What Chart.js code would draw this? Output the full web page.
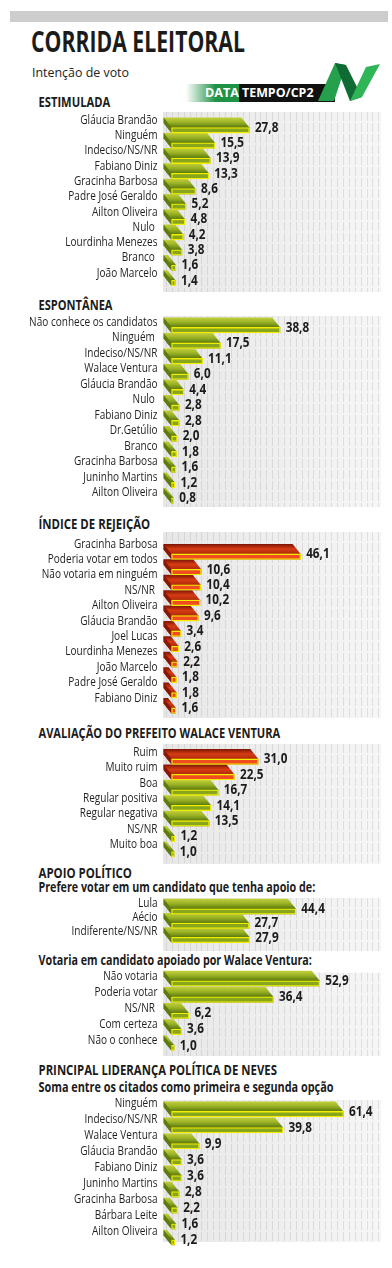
<!DOCTYPE html>
<html>
<head>
<meta charset="utf-8">
<script src="https://cdn.jsdelivr.net/npm/chart.js@4"></script>
<style>
  html, body { margin: 0; padding: 0; background: #fff; }
  #page { position: relative; width: 392px; height: 1268px; overflow: hidden; background: #fff; }
  #page svg, #page canvas { position: absolute; left: 0; }
</style>
</head>
<body>
<div id="page">
  <svg width="392" height="1268" style="top:0" font-family="'Open Sans', 'DejaVu Sans', sans-serif" fill="#1b1b1b">
    <defs>
      <linearGradient id="logoFade" x1="0" x2="1" y1="0" y2="0">
        <stop offset="0" stop-color="#ffffff"/>
        <stop offset="0.55" stop-color="#1f9246"/>
        <stop offset="1" stop-color="#1f9246"/>
      </linearGradient>
    </defs>
    <rect x="10" y="11" width="378" height="11" fill="#cdcdcd"/>
    <text x="31" y="52" font-size="28" font-weight="700" textLength="214" lengthAdjust="spacingAndGlyphs">CORRIDA ELEITORAL</text>
    <text x="32" y="76.5" font-size="12.5" textLength="97" lengthAdjust="spacingAndGlyphs" fill="#222">Intenção de voto</text>

    <!-- logo -->
    <rect x="186" y="84" width="54" height="18" fill="url(#logoFade)"/>
    <rect x="239" y="84" width="96" height="18" fill="#111"/>
    <polygon points="318,101 335,63 346,65 334,101" fill="#25a04d"/>
    <polygon points="335,63 346,65 362,97 350,101" fill="#0f6b33"/>
    <polygon points="350,101 362,97 380,64 366,67" fill="#2db556"/>
    <text x="205" y="96.5" font-size="12" font-weight="700" fill="#fff" textLength="34" lengthAdjust="spacingAndGlyphs">DATA</text>
    <text x="242" y="96.5" font-size="12" font-weight="700" fill="#fff" textLength="71.5" lengthAdjust="spacingAndGlyphs">TEMPO/CP2</text>

    <!-- section headings -->
    <g font-weight="700" font-size="13.5">
      <text x="38.5" y="106.5" textLength="71.7" lengthAdjust="spacingAndGlyphs">ESTIMULADA</text>
      <text x="38.5" y="309.5" textLength="74" lengthAdjust="spacingAndGlyphs">ESPONTÂNEA</text>
      <text x="38.5" y="528.5" textLength="111.7" lengthAdjust="spacingAndGlyphs">ÍNDICE DE REJEIÇÃO</text>
      <text x="38.5" y="738" textLength="241.7" lengthAdjust="spacingAndGlyphs">AVALIAÇÃO DO PREFEITO WALACE VENTURA</text>
      <text x="38.5" y="877.5" textLength="93.4" lengthAdjust="spacingAndGlyphs">APOIO POLÍTICO</text>
      <text x="38.5" y="891.5" textLength="276.7" lengthAdjust="spacingAndGlyphs">Prefere votar em um candidato que tenha apoio de:</text>
      <text x="38.5" y="965" textLength="273.4" lengthAdjust="spacingAndGlyphs">Votaria em candidato apoiado por Walace Ventura:</text>
      <text x="38.5" y="1075" textLength="238.4" lengthAdjust="spacingAndGlyphs">PRINCIPAL LIDERANÇA POLÍTICA DE NEVES</text>
      <text x="38.5" y="1092" textLength="295" lengthAdjust="spacingAndGlyphs">Soma entre os citados como primeira e segunda opção</text>
    </g>
  </svg>
</div>

<script>
// ---- data ----
const estimuladaLabels = ['Gláucia Brandão', 'Ninguém', 'Indeciso/NS/NR', 'Fabiano Diniz', 'Gracinha Barbosa',
  'Padre José Geraldo', 'Ailton Oliveira', 'Nulo ', 'Lourdinha Menezes', 'Branco ', 'João Marcelo'];
const estimuladaValues = [27.8, 15.5, 13.9, 13.3, 8.6, 5.2, 4.8, 4.2, 3.8, 1.6, 1.4];

const espontaneaLabels = ['Não conhece os candidatos', 'Ninguém ', 'Indeciso/NS/NR', 'Walace Ventura',
  'Gláucia Brandão', 'Nulo ', 'Fabiano Diniz', 'Dr.Getúlio', 'Branco', 'Gracinha Barbosa',
  'Juninho Martins', 'Ailton Oliveira'];
const espontaneaValues = [38.8, 17.5, 11.1, 6.0, 4.4, 2.8, 2.8, 2.0, 1.8, 1.6, 1.2, 0.8];

const rejeicaoLabels = ['Gracinha Barbosa', 'Poderia votar em todos', 'Não votaria em ninguém', 'NS/NR ',
  'Ailton Oliveira', 'Gláucia Brandão', 'Joel Lucas', 'Lourdinha Menezes', 'João Marcelo',
  'Padre José Geraldo', 'Fabiano Diniz'];
const rejeicaoValues = [46.1, 10.6, 10.4, 10.2, 9.6, 3.4, 2.6, 2.2, 1.8, 1.8, 1.6];

const avaliacaoLabels = ['Ruim', 'Muito ruim', 'Boa', 'Regular positiva', 'Regular negativa', 'NS/NR', 'Muito boa'];
const avaliacaoValues = [31.0, 22.5, 16.7, 14.1, 13.5, 1.2, 1.0];
const avaliacaoTone = ['red', 'red', 'green', 'green', 'green', 'green', 'green'];

const apoioLabels = ['Lula', 'Aécio', 'Indiferente/NS/NR'];
const apoioValues = [44.4, 27.7, 27.9];

const votariaLabels = ['Não votaria', 'Poderia votar', 'NS/NR ', 'Com certeza', 'Não o conhece'];
const votariaValues = [52.9, 36.4, 6.2, 3.6, 1.0];

const liderancaLabels = ['Ninguém', 'Indeciso/NS/NR', 'Walace Ventura', 'Gláucia Brandão', 'Fabiano Diniz',
  'Juninho Martins', 'Gracinha Barbosa', 'Bárbara Leite', 'Ailton Oliveira'];
const liderancaValues = [61.4, 39.8, 9.9, 3.6, 3.6, 2.8, 2.2, 1.6, 1.2];

// ---- layout of the panels on the page ----
const sections = [
  { labels: estimuladaLabels, values: estimuladaValues, tone: 'green', panelTop: 112, panelBottom: 292, first: 130.3, last: 283, labelDy: -6.4 },
  { labels: espontaneaLabels, values: espontaneaValues, tone: 'green', panelTop: 316, panelBottom: 507, first: 330.2, last: 500.7, labelDy: -4.6 },
  { labels: rejeicaoLabels, values: rejeicaoValues, tone: 'red', panelTop: 532, panelBottom: 718, first: 556.7, last: 710.7, labelDy: -9.2 },
  { labels: avaliacaoLabels, values: avaliacaoValues, tones: avaliacaoTone, panelTop: 744, panelBottom: 864, first: 761.7, last: 854.3, labelDy: -6 },
  { labels: apoioLabels, values: apoioValues, tone: 'green', panelTop: 898, panelBottom: 951, first: 911.5, last: 940, labelDy: -5 },
  { labels: votariaLabels, values: votariaValues, tone: 'green', panelTop: 972.7, panelBottom: 1056, first: 983.5, last: 1048, labelDy: -4 },
  { labels: liderancaLabels, values: liderancaValues, tone: 'green', panelTop: 1100, panelBottom: 1242, first: 1114.2, last: 1242.5, labelDy: -7.5 },
];

const PALETTE = {
  green: { front: '#87a61d', top: ['#c3d03a', '#98b024', '#5a780f'], side: '#5e7a10' },
  red: { front: '#f04c1f', top: ['#7a1404', '#d63c14', '#b02a0a'], side: '#851806' },
};
const DX = 8, DY = 10;
const LABEL_FONT = '13.5px "Open Sans", "DejaVu Sans", sans-serif';
const VALUE_FONT = 'bold 13.5px "Open Sans", "DejaVu Sans", sans-serif';

const measure = document.createElement('canvas').getContext('2d');
measure.font = LABEL_FONT;
const labelSqueeze = 128.4 / measure.measureText('Não conhece os candidatos').width;
measure.font = VALUE_FONT;
const valueSqueeze = 23.5 / measure.measureText('38,8').width;

function squeezedText(ctx, text, x, y, align, sq) {
  ctx.save();
  ctx.translate(x, y);
  ctx.scale(sq, 1);
  ctx.textAlign = align;
  ctx.textBaseline = 'alphabetic';
  ctx.fillText(text, 0, 0);
  ctx.restore();
}

const panelPlugin = {
  id: 'panel',
  beforeDraw(chart, args, opts) {
    const { ctx, chartArea } = chart;
    const g = ctx.createLinearGradient(chartArea.left, 0, chartArea.right, 0);
    g.addColorStop(0, '#e7e7e7');
    g.addColorStop(1, '#f6f6f6');
    ctx.save();
    ctx.fillStyle = g;
    ctx.fillRect(chartArea.left, opts.top, chartArea.right - chartArea.left, opts.bottom - opts.top);
    ctx.strokeStyle = 'rgba(175,175,175,0.32)';
    ctx.lineWidth = 1;
    ctx.setLineDash([9, 2]);
    for (let x = chartArea.left + 3; x < chartArea.right - 1; x += 5.9) {
      const px = Math.round(x) + 0.5;
      ctx.beginPath();
      ctx.moveTo(px, opts.top);
      ctx.lineTo(px, opts.bottom);
      ctx.stroke();
    }
    ctx.restore();
  },
};

// extruded top and left faces behind each bar, then category and value labels
const boxPlugin = {
  id: 'box3d',
  beforeDatasetsDraw(chart, args, opts) {
    const ctx = chart.ctx;
    chart.getDatasetMeta(0).data.forEach((bar, i) => {
      const p = bar.getProps(['x', 'y', 'base', 'height'], true);
      const l = p.base, r = p.x, t = p.y - p.height / 2, b = p.y + p.height / 2;
      const pal = PALETTE[opts.tones[i]];
      const g = ctx.createLinearGradient(0, t - DY, 0, t);
      g.addColorStop(0, pal.top[0]);
      g.addColorStop(0.5, pal.top[1]);
      g.addColorStop(1, pal.top[2]);
      ctx.save();
      ctx.fillStyle = g;
      ctx.beginPath();
      ctx.moveTo(l - DX, t - DY);
      ctx.lineTo(r - DX, t - DY);
      ctx.lineTo(r, t);
      ctx.lineTo(r, b);
      ctx.lineTo(l, b);
      ctx.lineTo(l - DX, b - DY);
      ctx.closePath();
      ctx.fill();
      ctx.fillStyle = pal.side;
      ctx.beginPath();
      ctx.moveTo(l - DX, t - DY);
      ctx.lineTo(l, t);
      ctx.lineTo(l, b);
      ctx.lineTo(l - DX, b - DY);
      ctx.closePath();
      ctx.fill();
      ctx.restore();
    });
  },
  afterDatasetsDraw(chart, args, opts) {
    const ctx = chart.ctx;
    const yScale = chart.scales.y;
    ctx.save();
    ctx.fillStyle = '#1f1f1f';
    ctx.font = LABEL_FONT;
    chart.data.labels.forEach((lab, i) => {
      squeezedText(ctx, lab, 157.5, yScale.getPixelForValue(i) + opts.labelDy, 'right', labelSqueeze);
    });
    ctx.fillStyle = '#1b1b1b';
    ctx.font = VALUE_FONT;
    chart.getDatasetMeta(0).data.forEach((bar, i) => {
      const v = chart.data.datasets[0].data[i];
      squeezedText(ctx, v.toFixed(1).replace('.', ','), bar.x + 5.5, bar.y + 1.5, 'left', valueSqueeze);
    });
    ctx.restore();
  },
};

const page = document.getElementById('page');

sections.forEach((s) => {
  const n = s.values.length;
  const pitch = (s.last - s.first) / (n - 1);
  const canvasTop = Math.floor(s.panelTop - 3);
  const canvasBottom = Math.ceil(Math.max(s.panelBottom, s.last + pitch / 2) + 2);
  const canvas = document.createElement('canvas');
  canvas.width = 392;
  canvas.height = canvasBottom - canvasTop;
  canvas.style.top = canvasTop + 'px';
  page.appendChild(canvas);

  const tones = s.tones || s.values.map(() => s.tone);

  new Chart(canvas, {
    type: 'bar',
    data: {
      labels: s.labels,
      datasets: [{
        data: s.values,
        backgroundColor: tones.map((t) => PALETTE[t].front),
        borderColor: '#f3ee00',
        borderWidth: 1.3,
        borderSkipped: false,
        barThickness: 5.5,
      }],
    },
    options: {
      indexAxis: 'y',
      responsive: false,
      animation: false,
      events: [],
      layout: {
        padding: {
          left: 163,
          right: 11,
          top: s.first - pitch / 2 - canvasTop,
          bottom: canvasBottom - (s.last + pitch / 2),
        },
      },
      scales: {
        x: { display: false, min: -3.05, max: 74.8 },
        y: { display: false },
      },
      plugins: {
        legend: { display: false },
        tooltip: { enabled: false },
        panel: { top: s.panelTop - canvasTop, bottom: s.panelBottom - canvasTop },
        box3d: { tones: tones, labelDy: s.labelDy },
      },
    },
    plugins: [panelPlugin, boxPlugin],
  });
});
</script>
</body>
</html>
